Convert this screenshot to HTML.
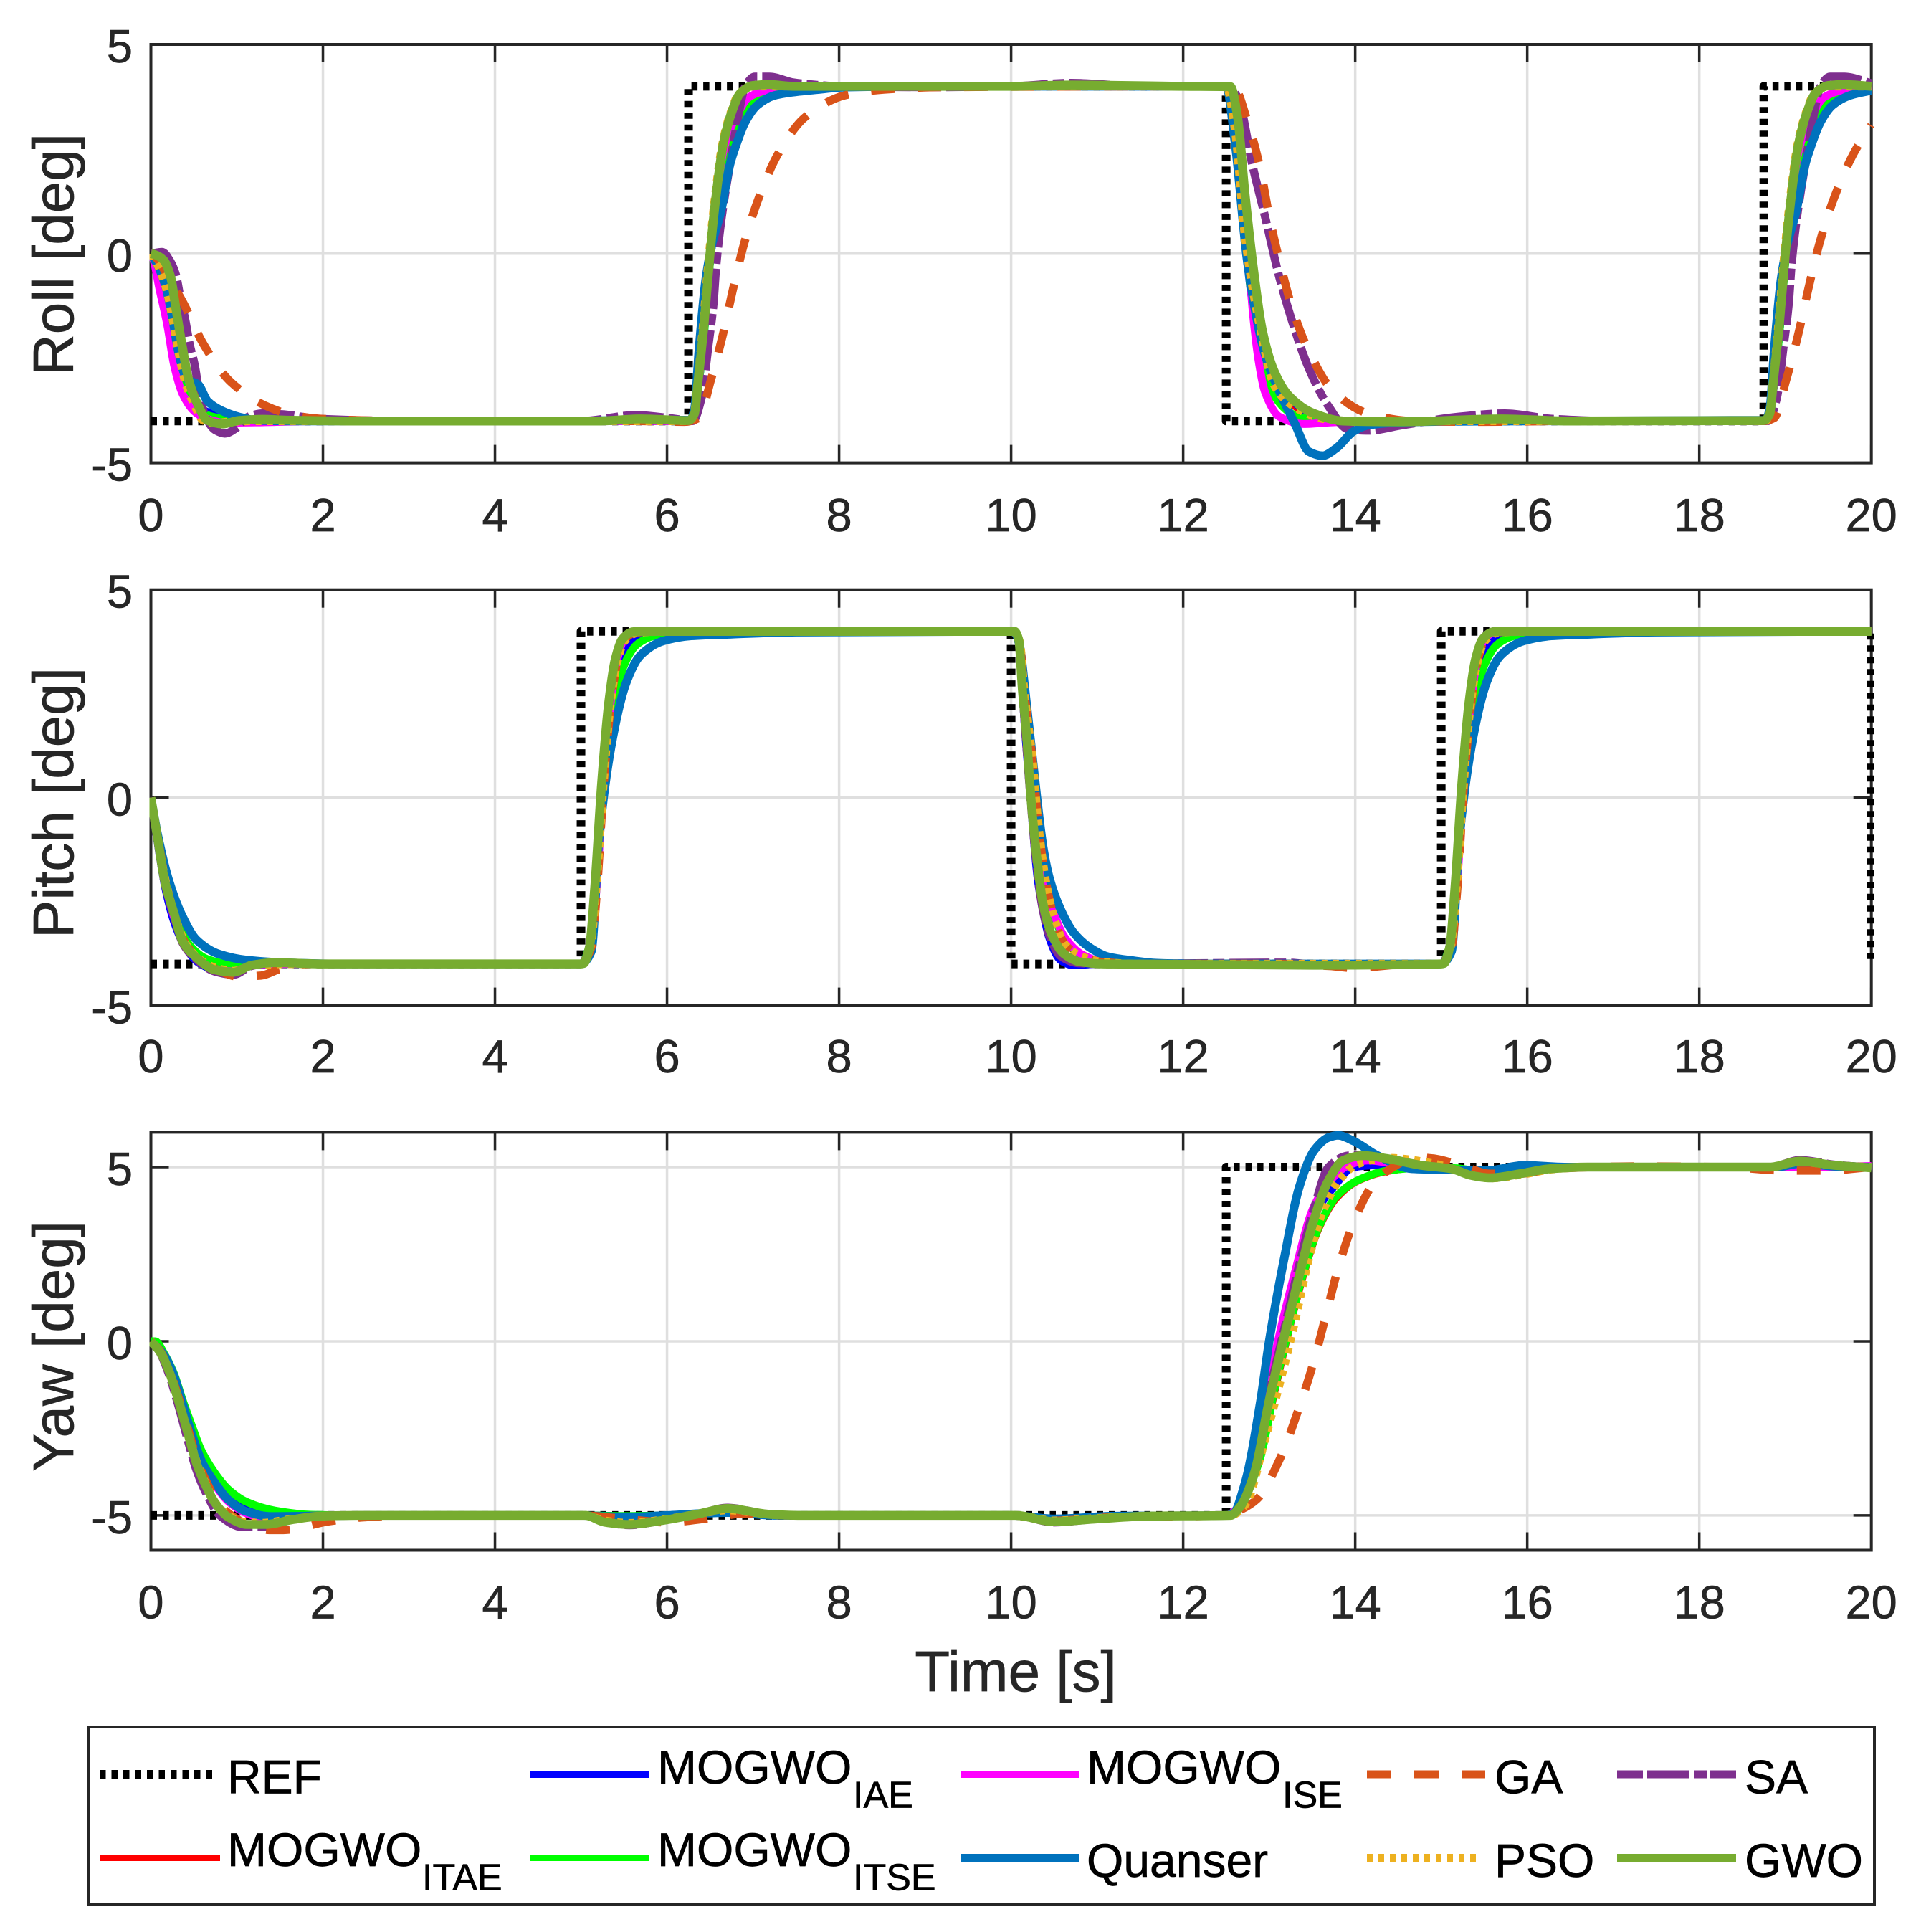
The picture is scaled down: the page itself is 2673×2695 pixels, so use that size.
<!DOCTYPE html>
<html lang="en">
<head>
<meta charset="utf-8">
<title>Roll, pitch and yaw tracking responses</title>
<style>
html,body{margin:0;padding:0;background:#fff;}
svg{display:block;font-family:"Liberation Sans",Arial,sans-serif;}
text{stroke-width:.7;paint-order:stroke;}
</style>
</head>
<body>
<svg id="figure" xmlns="http://www.w3.org/2000/svg" width="2673" height="2695" viewBox="0 0 2673 2695">
<rect x="0" y="0" width="2673" height="2695" fill="#fff"/>
<g id="panels"></g>
<text x="1417" y="2359" font-size="80" fill="#262626" stroke="#262626" text-anchor="middle">Time [s]</text>
<g>
<rect x="124" y="2409" width="2491" height="248" fill="#fff" stroke="#262626" stroke-width="4"/>
<g>
<line x1="139" y1="2475" x2="299" y2="2475" stroke="#000" stroke-width="12" stroke-dasharray="8.5 8"/>
<text x="317" y="2501.7" font-size="66" fill="#000" stroke="#000">REF</text>
</g>
<g>
<line x1="740" y1="2475" x2="906" y2="2475" stroke="#0000ff" stroke-width="10"/>
<text x="917" y="2488" font-size="66" fill="#000" stroke="#000">MOGWO</text>
<text x="1190" y="2521.7" font-size="52" fill="#000" stroke="#000">IAE</text>
</g>
<g>
<line x1="1340" y1="2475" x2="1506" y2="2475" stroke="#ff00ff" stroke-width="10"/>
<text x="1516" y="2488" font-size="66" fill="#000" stroke="#000">MOGWO</text>
<text x="1789" y="2521.7" font-size="52" fill="#000" stroke="#000">ISE</text>
</g>
<g>
<line x1="1907" y1="2475" x2="2072" y2="2475" stroke="#d95319" stroke-width="11" stroke-dasharray="34 32"/>
<text x="2085" y="2501.7" font-size="66" fill="#000" stroke="#000">GA</text>
</g>
<g>
<line x1="2256" y1="2475" x2="2422" y2="2475" stroke="#7e2f8e" stroke-width="11" stroke-dasharray="36 6 59 6 18 5 59"/>
<text x="2434" y="2501.7" font-size="66" fill="#000" stroke="#000">SA</text>
</g>
<g>
<line x1="139" y1="2591.5" x2="307" y2="2591.5" stroke="#ff0000" stroke-width="9"/>
<text x="317" y="2603" font-size="66" fill="#000" stroke="#000">MOGWO</text>
<text x="589" y="2636.7" font-size="52" fill="#000" stroke="#000">ITAE</text>
</g>
<g>
<line x1="740" y1="2591.5" x2="906" y2="2591.5" stroke="#00ff00" stroke-width="9"/>
<text x="917" y="2603" font-size="66" fill="#000" stroke="#000">MOGWO</text>
<text x="1190" y="2636.7" font-size="52" fill="#000" stroke="#000">ITSE</text>
</g>
<g>
<line x1="1340" y1="2591.5" x2="1506" y2="2591.5" stroke="#0072bd" stroke-width="11"/>
<text x="1516" y="2618" font-size="66" fill="#000" stroke="#000">Quanser</text>
</g>
<g>
<line x1="1907" y1="2591.5" x2="2068" y2="2591.5" stroke="#edb120" stroke-width="11" stroke-dasharray="8 8"/>
<text x="2085" y="2618" font-size="66" fill="#000" stroke="#000">PSO</text>
</g>
<g>
<line x1="2256" y1="2591.5" x2="2422" y2="2591.5" stroke="#77ac30" stroke-width="11"/>
<text x="2434" y="2618" font-size="66" fill="#000" stroke="#000">GWO</text>
</g>
</g>
</svg>
<script>
const xTickLabels=[0,2,4,6,8,10,12,14,16,18,20];
const rollYTicks=[-5,0,5];
const pitchYTicks=[-5,0,5];
const yawYTicks=[-5,0,5];

/* ---- Roll [deg]: [time, value] ---- */
const rollREF=[[0,-4],[6.25,-4],[6.25,4],[12.5,4],[12.5,-4],[18.75,-4],[18.75,4],[20,4]];
const rollITAE=[[0,0],[.06,-.2],[.16,-.9],[.25,-1.6],[.33,-2.5],[.4,-3.1],[.5,-3.55],[.62,-3.8],[.78,-3.88],[1,-3.97],[1.4,-4],[6.27,-4],[6.32,-3.85],[6.37,-3.1],[6.44,-1.7],[6.5,-.2],[6.57,.9],[6.65,1.9],[6.75,2.5],[6.85,3.05],[6.91,3.25],[7,3.5],[7.1,3.72],[7.27,3.88],[7.6,3.97],[8.2,4],[12.5,4],[12.6,3],[12.72,.3],[12.86,-1.85],[13.06,-3.05],[13.3,-3.65],[13.5,-3.9],[13.86,-4],[18.77,-4],[18.82,-3.85],[18.87,-3.1],[18.94,-1.7],[19,-.2],[19.07,.9],[19.15,1.9],[19.25,2.5],[19.35,3.05],[19.5,3.5],[19.77,3.88],[20,3.95]];
const rollIAE=[[0,0],[.06,-.2],[.16,-.9],[.25,-1.55],[.33,-2.45],[.4,-3.07],[.5,-3.55],[.62,-3.75],[.75,-3.85],[.91,-3.92],[1.3,-4],[6.27,-4],[6.32,-3.85],[6.37,-3.1],[6.44,-1.7],[6.5,-.2],[6.57,.9],[6.65,1.85],[6.75,2.4],[6.85,2.95],[7,3.45],[7.1,3.68],[7.27,3.85],[7.6,3.96],[8.2,4],[12.5,4],[12.6,3],[12.72,.25],[12.86,-1.83],[13.06,-3],[13.3,-3.57],[13.5,-3.86],[13.86,-4],[18.77,-4],[18.82,-3.85],[18.87,-3.1],[18.94,-1.7],[19,-.2],[19.07,.9],[19.15,1.85],[19.25,2.4],[19.35,2.95],[19.5,3.45],[19.77,3.85],[20,3.95]];
const rollITSE=[[0,0],[.06,-.2],[.16,-.9],[.25,-1.6],[.33,-2.5],[.4,-3.1],[.5,-3.55],[.62,-3.83],[.8,-3.93],[1,-3.98],[1.4,-4],[6.27,-4],[6.32,-3.85],[6.37,-3.1],[6.44,-1.7],[6.5,-.2],[6.57,1.1],[6.65,2.2],[6.75,2.75],[6.85,3.2],[6.91,3.37],[7,3.6],[7.1,3.78],[7.27,3.92],[7.6,3.98],[8,4],[12.5,4],[12.6,3],[12.72,.3],[12.86,-1.9],[13.03,-3.3],[13.3,-3.86],[13.63,-4],[18.77,-4],[18.82,-3.85],[18.87,-3.1],[18.94,-1.7],[19,-.2],[19.07,1.1],[19.15,2.2],[19.25,2.75],[19.35,3.2],[19.5,3.6],[19.77,3.92],[20,3.98]];
const rollISE=[[0,-.05],[.02,-.1],[.1,-.85],[.19,-1.7],[.27,-2.67],[.37,-3.36],[.5,-3.76],[.63,-3.93],[.86,-4.04],[1.3,-4.03],[2,-4],[6.27,-4],[6.32,-3.85],[6.37,-3.05],[6.43,-1.7],[6.5,-.1],[6.57,1.3],[6.65,2.4],[6.72,2.9],[6.81,3.3],[6.94,3.72],[7.13,3.89],[7.3,3.97],[7.6,4],[12.5,4],[12.58,3.6],[12.66,2.7],[12.74,.5],[12.81,-1.4],[12.88,-2.6],[12.95,-3.3],[13.12,-3.9],[13.4,-4.07],[13.75,-4.03],[14.3,-4],[18.77,-4],[18.82,-3.85],[18.87,-3.05],[18.93,-1.7],[19,-.1],[19.07,1.3],[19.15,2.4],[19.22,2.9],[19.31,3.3],[19.44,3.72],[19.63,3.89],[19.8,3.97],[20,4]];
const rollSA=[[0,0],[.13,.04],[.23,-.2],[.29,-.5],[.34,-1.02],[.4,-1.59],[.45,-2.16],[.51,-2.67],[.56,-3.3],[.63,-3.87],[.75,-4.22],[.86,-4.3],[1,-4.16],[1.13,-3.9],[1.3,-3.82],[1.52,-3.84],[1.97,-3.95],[3,-4],[5,-4],[5.64,-3.86],[6.1,-3.95],[6.3,-4],[6.4,-3.46],[6.48,-2.21],[6.54,-1.19],[6.57,-.33],[6.62,.63],[6.68,1.49],[6.75,2.35],[6.81,3.09],[6.91,4],[7.02,4.23],[7.19,4.23],[7.47,4.09],[7.65,4.05],[8,4],[9,3.98],[10,4],[10.7,4.08],[11.5,4],[12.5,4],[12.63,3.75],[12.81,2.07],[12.95,.9],[13.12,-.58],[13.3,-1.83],[13.46,-2.74],[13.69,-3.65],[13.92,-4.2],[14.15,-4.23],[14.55,-4.1],[15.2,-3.9],[15.74,-3.82],[16.3,-3.95],[17,-4],[18.8,-4],[18.9,-3.46],[18.98,-2.21],[19.04,-1.19],[19.07,-.33],[19.12,.63],[19.18,1.49],[19.25,2.35],[19.31,3.09],[19.41,4],[19.52,4.23],[19.69,4.23],[20,4.07]];
const rollQuanser=[[0,-.02],[.08,-.28],[.18,-.85],[.25,-1.53],[.33,-2.44],[.42,-3],[.55,-3.13],[.66,-3.53],[.83,-3.76],[1.02,-3.9],[1.25,-3.99],[1.8,-4],[5,-4],[5.7,-3.97],[6.27,-3.98],[6.32,-3.7],[6.37,-2.33],[6.45,-.62],[6.52,.2],[6.63,1.04],[6.73,2.12],[6.8,2.58],[6.91,3.15],[7.05,3.55],[7.25,3.78],[7.47,3.86],[7.75,3.92],[8.08,3.98],[9,4],[12.5,4],[12.6,2.7],[12.75,-.25],[12.95,-2.4],[13.12,-3.3],[13.3,-4.07],[13.46,-4.73],[13.62,-4.83],[13.78,-4.65],[13.98,-4.25],[14.15,-4.1],[14.55,-4.03],[15,-4.01],[16,-4],[18.77,-3.98],[18.82,-3.7],[18.87,-2.33],[18.95,-.62],[19.02,.2],[19.13,1.04],[19.23,2.12],[19.3,2.58],[19.41,3.15],[19.55,3.55],[19.75,3.78],[20,3.9]];
const rollGA=[[0,0],[.06,-.1],[.2,-.55],[.38,-1.19],[.61,-2.16],[.93,-3.07],[1.37,-3.67],[1.7,-3.88],[2,-3.95],[3,-4],[5.6,-4],[6.2,-4.02],[6.37,-3.93],[6.51,-3.02],[6.65,-1.93],[6.77,-.82],[6.9,.27],[7.07,1.35],[7.29,2.38],[7.61,3.27],[8.08,3.79],[8.52,3.92],[9.2,3.98],[12.58,4],[12.75,3.15],[12.9,2],[13,.9],[13.12,-.17],[13.26,-1.25],[13.46,-2.33],[13.75,-3.3],[14.15,-3.82],[14.66,-4],[15.5,-4.02],[16.5,-4],[18.75,-4],[18.87,-3.93],[19.01,-3.02],[19.15,-1.93],[19.27,-.82],[19.4,.27],[19.57,1.35],[19.79,2.38],[20,3.07]];
const rollPSO=[[0,0],[.08,-.28],[.18,-.85],[.25,-1.53],[.33,-2.44],[.4,-3.07],[.5,-3.59],[.61,-3.99],[.75,-4.05],[.9,-4.02],[1.2,-4],[6.27,-4],[6.32,-3.75],[6.36,-3],[6.42,-1.7],[6.49,0],[6.56,1.38],[6.64,2.58],[6.74,3.37],[6.84,3.83],[7,4],[7.3,4],[12.5,4],[12.6,3],[12.72,.4],[12.9,-1.83],[13.06,-3.15],[13.23,-3.57],[13.4,-3.78],[13.63,-3.95],[14,-4],[18.77,-4],[18.82,-3.75],[18.86,-3],[18.92,-1.7],[18.99,0],[19.06,1.38],[19.14,2.58],[19.24,3.37],[19.34,3.83],[19.5,4],[20,4]];
const rollGWO=[[0,0],[.04,-.02],[.15,-.16],[.23,-.56],[.29,-1.3],[.36,-2.16],[.44,-3.02],[.54,-3.59],[.66,-3.99],[.83,-4.07],[1.02,-3.99],[1.3,-3.96],[1.58,-3.98],[2.5,-4],[5.2,-4],[5.7,-3.95],[6.25,-3.99],[6.32,-3.82],[6.36,-3.07],[6.43,-1.7],[6.5,0],[6.57,1.38],[6.65,2.58],[6.75,3.37],[6.85,3.83],[7,4.02],[7.19,4.04],[7.47,4],[10,4],[10.7,4.03],[12,4],[12.55,3.99],[12.63,3.3],[12.72,1.4],[12.81,-.25],[12.92,-1.83],[13.06,-2.82],[13.23,-3.4],[13.52,-3.82],[13.86,-4],[14.5,-4.02],[15.7,-3.95],[16.5,-4],[18.75,-3.99],[18.82,-3.82],[18.86,-3.07],[18.93,-1.7],[19,0],[19.07,1.38],[19.15,2.58],[19.25,3.37],[19.35,3.83],[19.5,4.02],[19.69,4.04],[20,4]];

/* ---- Pitch [deg] ---- */
const pitchREF=[[0,-4],[5,-4],[5,4],[10,4],[10,-4],[15,-4],[15,4],[20,4],[20,-4]];
const pitchITAE=[[0,0],[.08,-1.05],[.18,-2.2],[.3,-3.05],[.45,-3.62],[.65,-3.95],[.9,-4.1],[1.2,-4.02],[1.6,-4],[5,-4],[5.1,-3.55],[5.17,-2.1],[5.25,.3],[5.33,2.2],[5.42,3.3],[5.52,3.8],[5.7,3.97],[6.2,4],[10,4],[10.05,3.95],[10.1,3.7],[10.15,2.63],[10.26,.68],[10.31,-.52],[10.4,-1.97],[10.5,-2.85],[10.63,-3.45],[10.83,-3.82],[11.05,-3.95],[11.5,-4],[15,-4],[15.1,-3.55],[15.17,-2.1],[15.25,.3],[15.33,2.2],[15.42,3.3],[15.52,3.8],[15.7,3.97],[16.2,4],[20,4]];
const pitchIAE=[[0,0],[.08,-1.1],[.17,-2.2],[.28,-3.05],[.4,-3.6],[.56,-3.98],[.75,-4.15],[.95,-4.2],[1.2,-4.03],[1.6,-4],[5,-4],[5.1,-3.55],[5.17,-2.1],[5.25,.3],[5.33,2.2],[5.42,3.2],[5.5,3.58],[5.66,3.85],[5.8,3.95],[6.2,4],[10,4],[10.04,3.98],[10.09,3.7],[10.13,2.6],[10.17,1.4],[10.225,0],[10.31,-1.97],[10.37,-2.7],[10.44,-3.35],[10.58,-3.92],[10.72,-4.03],[11,-4],[15,-4],[15.1,-3.55],[15.17,-2.1],[15.25,.3],[15.33,2.2],[15.42,3.2],[15.5,3.58],[15.66,3.85],[15.8,3.95],[16.2,4],[20,4]];
const pitchITSE=[[0,0],[.08,-1],[.18,-2.1],[.3,-2.95],[.45,-3.55],[.65,-3.88],[.9,-4],[1.2,-3.99],[1.6,-4],[5,-4],[5.1,-3.55],[5.18,-2],[5.26,.1],[5.37,2],[5.5,3.18],[5.66,3.7],[5.85,3.89],[6.12,3.97],[6.6,4],[10,4],[10.05,3.95],[10.1,3.7],[10.15,2.63],[10.26,.68],[10.31,-.52],[10.4,-1.97],[10.5,-2.85],[10.63,-3.42],[10.83,-3.8],[11.05,-3.95],[11.5,-4],[15,-4],[15.1,-3.55],[15.18,-2],[15.26,.1],[15.37,2],[15.5,3.18],[15.66,3.7],[15.85,3.89],[16.12,3.97],[16.6,4],[20,4]];
const pitchISE=[[0,0],[.08,-1.05],[.17,-2.1],[.28,-2.95],[.4,-3.55],[.56,-3.92],[.75,-4.12],[.95,-4.18],[1.2,-4.02],[1.6,-4],[5,-4],[5.11,-3.6],[5.18,-2.2],[5.26,.3],[5.34,2.2],[5.42,3.3],[5.5,3.8],[5.63,3.98],[6,4],[10,4],[10.05,3.95],[10.1,3.7],[10.15,2.63],[10.26,.68],[10.31,-.52],[10.4,-1.95],[10.5,-2.8],[10.63,-3.38],[10.83,-3.78],[11.05,-3.94],[11.5,-4],[15,-4],[15.11,-3.6],[15.18,-2.2],[15.26,.3],[15.34,2.2],[15.42,3.3],[15.5,3.8],[15.63,3.98],[16,4],[20,4]];
const pitchSA=[[0,0],[.08,-1.05],[.16,-2.05],[.27,-2.85],[.37,-3.5],[.53,-3.9],[.74,-4.18],[.96,-4.26],[1.17,-4.05],[1.44,-3.97],[2,-4],[5,-4],[5.1,-3.6],[5.16,-2.2],[5.24,.3],[5.32,2.2],[5.4,3.3],[5.48,3.82],[5.61,4],[6,4],[10,4],[10.04,3.98],[10.09,3.72],[10.13,2.63],[10.17,1.48],[10.225,0],[10.28,-1.28],[10.36,-2.6],[10.45,-3.35],[10.58,-3.82],[10.78,-3.98],[11.1,-4],[13.2,-3.97],[13.6,-4.02],[15,-4],[15.1,-3.6],[15.16,-2.2],[15.24,.3],[15.32,2.2],[15.4,3.3],[15.48,3.82],[15.61,4],[16,4],[20,4]];
const pitchQuanser=[[0,0],[.08,-.9],[.21,-2],[.37,-2.87],[.53,-3.42],[.8,-3.77],[1.12,-3.91],[1.54,-3.97],[2.2,-4],[5,-4],[5.12,-3.7],[5.21,-.98],[5.37,1.45],[5.53,2.79],[5.69,3.42],[5.96,3.77],[6.28,3.89],[6.75,3.93],[7.5,3.98],[10,4],[10.05,3.95],[10.1,3.65],[10.16,2.63],[10.3,0],[10.37,-1.16],[10.45,-1.97],[10.58,-2.71],[10.72,-3.23],[10.91,-3.6],[11.13,-3.83],[11.41,-3.92],[11.69,-3.98],[12.2,-4],[15,-4],[15.12,-3.7],[15.21,-.98],[15.37,1.45],[15.53,2.79],[15.69,3.42],[15.96,3.77],[16.28,3.89],[16.75,3.93],[17.5,3.98],[20,4]];
const pitchGA=[[0,0],[.08,-.95],[.17,-2],[.28,-2.85],[.4,-3.5],[.56,-3.88],[.78,-4.15],[1,-4.3],[1.28,-4.28],[1.49,-4.13],[1.75,-4.01],[2.1,-4],[5,-4],[5.12,-3.6],[5.19,-2.1],[5.26,.2],[5.34,2.1],[5.42,3.25],[5.5,3.78],[5.63,3.97],[6,4],[10,4],[10.05,3.95],[10.1,3.72],[10.15,2.63],[10.26,.68],[10.31,-.52],[10.4,-1.97],[10.5,-2.89],[10.63,-3.54],[10.83,-3.83],[11.05,-3.95],[11.5,-4],[13,-4],[13.7,-4.05],[14,-4.1],[14.5,-4.02],[15,-4],[15.12,-3.6],[15.19,-2.1],[15.26,.2],[15.34,2.1],[15.42,3.25],[15.5,3.78],[15.63,3.97],[16,4],[20,4]];
const pitchPSO=[[0,0],[.08,-1],[.17,-2],[.28,-2.85],[.4,-3.5],[.56,-3.88],[.76,-4.1],[.96,-4.17],[1.2,-4.03],[1.6,-4],[5,-4],[5.11,-3.58],[5.18,-2.1],[5.26,.3],[5.34,2.2],[5.42,3.25],[5.5,3.75],[5.65,3.96],[6,4],[10,4],[10.05,3.95],[10.1,3.75],[10.15,2.63],[10.26,.68],[10.31,-.52],[10.4,-1.97],[10.5,-2.89],[10.63,-3.54],[10.83,-3.83],[11.05,-3.95],[11.5,-4],[15,-4],[15.11,-3.58],[15.18,-2.1],[15.26,.3],[15.34,2.2],[15.42,3.25],[15.5,3.75],[15.65,3.96],[16,4],[20,4]];
const pitchGWO=[[0,0],[.08,-1],[.16,-2],[.27,-2.79],[.37,-3.46],[.53,-3.85],[.74,-4.14],[.96,-4.2],[1.17,-4.03],[1.44,-3.97],[2,-4],[5,-4],[5.03,-3.99],[5.1,-3.58],[5.16,-2.16],[5.24,.35],[5.32,2.24],[5.4,3.34],[5.48,3.81],[5.61,3.99],[6,4],[10,4],[10.04,4],[10.09,3.78],[10.13,2.63],[10.18,1.48],[10.23,0],[10.29,-1.28],[10.37,-2.54],[10.47,-3.28],[10.61,-3.75],[10.8,-3.95],[11.08,-4],[13.5,-4.03],[15,-4],[15.03,-3.99],[15.1,-3.58],[15.16,-2.16],[15.24,.35],[15.32,2.24],[15.4,3.34],[15.48,3.81],[15.61,3.99],[16,4],[20,4]];

/* ---- Yaw [deg] ---- */
const yawREF=[[0,-5],[12.5,-5],[12.5,5],[20,5]];
const yawITAE=[[0,0],[.16,-.4],[.27,-1],[.37,-1.72],[.48,-2.5],[.58,-3.2],[.74,-3.9],[.9,-4.35],[1.17,-4.75],[1.54,-4.96],[2,-5],[5,-5],[5.5,-5.02],[6,-5],[6.7,-4.9],[7.3,-5],[10,-5],[10.5,-5.12],[11.2,-5.03],[12.5,-5],[12.62,-4.85],[12.89,-3.4],[13.06,-1.5],[13.23,.3],[13.4,1.9],[13.58,3.25],[13.78,4.1],[14.03,4.6],[14.38,4.88],[14.77,4.98],[15.15,4.95],[15.55,4.85],[16,4.95],[16.7,5],[19,5],[19.3,5.07],[20,5]];
const yawIAE=[[0,0],[.16,-.4],[.27,-1],[.37,-1.75],[.48,-2.55],[.58,-3.25],[.74,-3.95],[.9,-4.4],[1.17,-4.75],[1.54,-4.96],[2,-5],[5,-5],[5.5,-5.02],[6,-5],[6.7,-4.92],[7.3,-5],[10,-5],[10.5,-5.1],[11.2,-5.02],[12.5,-5],[12.62,-4.82],[12.83,-3.6],[13,-1.4],[13.18,.7],[13.35,2.4],[13.52,3.6],[13.75,4.43],[13.98,5],[14.26,5.05],[14.77,4.95],[15.15,4.93],[15.55,4.85],[16,4.97],[16.7,5],[19,5],[19.3,5.07],[20,5]];
const yawITSE=[[0,0],[.05,0],[.16,-.38],[.27,-.94],[.37,-1.7],[.48,-2.45],[.58,-3.1],[.74,-3.77],[.9,-4.25],[1.12,-4.62],[1.44,-4.86],[1.86,-4.98],[2.4,-5],[5,-5],[5.5,-5.02],[6,-5],[6.7,-4.92],[7.3,-5],[10,-5],[10.5,-5.1],[11.2,-5.02],[12.5,-5],[12.62,-4.85],[12.89,-3.4],[13.06,-1.4],[13.23,.38],[13.4,1.98],[13.58,3.3],[13.78,4.15],[14.03,4.62],[14.38,4.9],[14.77,4.98],[15.15,4.97],[15.55,4.85],[16,4.97],[16.7,5],[19,5],[19.3,5.07],[20,5]];
const yawISE=[[0,0],[.16,-.42],[.27,-1.05],[.37,-1.8],[.48,-2.7],[.58,-3.4],[.74,-4.1],[.9,-4.6],[1.12,-4.95],[1.33,-5.08],[1.7,-5.02],[2.13,-5],[5,-5],[5.5,-5.05],[6,-5],[6.7,-4.92],[7.3,-5],[10,-5],[10.5,-5.1],[11.2,-5.02],[12.5,-5],[12.62,-4.82],[12.83,-3.5],[13.06,-.47],[13.29,1.89],[13.52,3.87],[13.75,4.72],[13.92,5.05],[14.15,5.19],[14.55,5.05],[15,4.95],[15.5,4.85],[16,4.97],[16.7,5],[18.9,5],[19.3,5],[20,5.03]];
const yawSA=[[0,0],[.1,-.3],[.21,-.95],[.32,-1.85],[.43,-2.85],[.53,-3.7],[.64,-4.35],[.8,-5],[1.06,-5.33],[1.28,-5.33],[1.65,-5.12],[1.9,-5.03],[2.4,-5],[5.05,-5],[5.27,-5.19],[5.56,-5.28],[5.96,-5.14],[6.38,-4.95],[6.7,-4.78],[7.2,-4.97],[7.6,-5],[10.05,-5],[10.5,-5.2],[11,-5.1],[11.6,-5.02],[12.55,-5],[12.66,-4.72],[12.83,-3.6],[13,-1.5],[13.18,.4],[13.35,2.2],[13.52,3.8],[13.69,5],[13.92,5.33],[14.09,5.35],[14.38,5.24],[14.77,5.05],[15.12,4.95],[15.35,4.76],[15.57,4.69],[15.92,4.81],[16.26,4.95],[16.7,5],[18.82,5],[19.17,5.2],[19.57,5.07],[20,4.98]];
const yawQuanser=[[0,0],[.16,-.42],[.27,-1],[.37,-1.8],[.48,-2.7],[.6,-3.5],[.74,-4.05],[.9,-4.55],[1.1,-4.88],[1.4,-5.03],[1.9,-5.02],[2.4,-5],[5,-5],[5.25,-5.03],[5.56,-5.05],[6,-5],[6.7,-4.92],[7.3,-5],[10,-5],[10.5,-5.1],[11.2,-5.02],[12.5,-5],[12.58,-4.95],[12.72,-4.06],[12.9,-1.7],[13,0],[13.18,2.45],[13.35,4.43],[13.52,5.47],[13.69,5.85],[13.8,5.91],[13.98,5.75],[14.26,5.33],[14.66,4.95],[15.12,4.92],[15.52,4.9],[15.97,5.05],[16.43,5],[18.9,5],[19.17,5.1],[19.6,5.02],[20,5]];
const yawGA=[[0,0],[.1,-.25],[.21,-.8],[.32,-1.6],[.43,-2.5],[.53,-3.35],[.64,-4],[.8,-4.7],[1.12,-5.25],[1.38,-5.42],[1.54,-5.42],[2.07,-5.17],[2.5,-5.05],[3,-5],[5,-5],[5.5,-5.1],[6,-5.2],[6.5,-5.08],[6.9,-4.95],[7.4,-5],[10,-5],[10.5,-5.15],[11.2,-5.05],[12.5,-5],[12.66,-4.85],[12.86,-4.53],[13.12,-3.4],[13.35,-1.89],[13.52,-.57],[13.66,.75],[13.8,2.08],[13.98,3.4],[14.2,4.48],[14.38,4.9],[14.72,5.28],[14.9,5.25],[15.23,5.05],[15.57,4.81],[15.92,4.81],[16.3,4.95],[17.28,5.02],[18.3,5],[19,4.9],[19.45,4.9],[20,5]];
const yawPSO=[[0,0],[.1,-.28],[.21,-.85],[.32,-1.7],[.43,-2.6],[.53,-3.45],[.64,-4.1],[.74,-4.6],[.9,-5],[1.06,-5.18],[1.28,-5.22],[1.6,-5.12],[2,-5.03],[2.5,-5],[5.05,-5],[5.27,-5.15],[5.56,-5.22],[5.96,-5.12],[6.38,-4.95],[6.7,-4.85],[7.2,-4.97],[7.6,-5],[10.05,-5],[10.5,-5.15],[11,-5.08],[11.6,-5.02],[12.55,-5],[12.72,-4.7],[12.95,-2.83],[13.12,-1.23],[13.29,.47],[13.46,2.36],[13.63,3.77],[13.83,4.67],[14.03,5.09],[14.38,5.26],[14.95,5.08],[15.23,4.86],[15.57,4.68],[15.92,4.78],[16.3,4.94],[16.7,5],[18.82,5],[19.17,5.15],[19.57,5.05],[20,5]];
const yawGWO=[[0,0],[.1,-.28],[.21,-.85],[.32,-1.7],[.43,-2.64],[.53,-3.5],[.64,-4.15],[.74,-4.62],[.9,-5.05],[1.12,-5.26],[1.33,-5.26],[1.65,-5.12],[1.97,-5.02],[2.4,-5],[5.05,-5],[5.27,-5.19],[5.56,-5.26],[5.96,-5.14],[6.38,-4.95],[6.7,-4.8],[7.2,-4.97],[7.6,-5],[10.05,-5],[10.5,-5.18],[11,-5.1],[11.6,-5.02],[12.55,-5],[12.66,-4.76],[12.83,-3.77],[13,-1.7],[13.18,.19],[13.35,1.89],[13.52,3.49],[13.69,4.62],[13.86,5.19],[14.09,5.33],[14.38,5.24],[14.77,5.05],[15.12,4.95],[15.35,4.76],[15.57,4.69],[15.92,4.81],[16.26,4.95],[16.7,5],[18.82,5],[19.17,5.17],[19.57,5.05],[20,4.98]];

const xMin=0, xMax=20, plotLeft=210.5, plotRight=2610.7;
const NS='http://www.w3.org/2000/svg';
const panelsRoot=document.getElementById('panels');

const seriesStyles=[
 {key:'ref',color:'#000000',width:12,dash:'8.5 8',step:true},
 {key:'mogwo-itae',color:'#ff0000',width:10,dash:''},
 {key:'mogwo-iae',color:'#0000ff',width:11,dash:''},
 {key:'mogwo-itse',color:'#00ff00',width:11,dash:''},
 {key:'mogwo-ise',color:'#ff00ff',width:11,dash:''},
 {key:'sa',color:'#7e2f8e',width:11.5,dash:'56 7 16 7'},
 {key:'quanser',color:'#0072bd',width:12,dash:''},
 {key:'ga',color:'#d95319',width:11.5,dash:'33 32'},
 {key:'pso',color:'#edb120',width:11.5,dash:'8 8'},
 {key:'gwo',color:'#77ac30',width:12.5,dash:''}
];

function xScale(t){return plotLeft+(t-xMin)/(xMax-xMin)*(plotRight-plotLeft);}
function yScale(panel,v){return panel.bottom-(v-panel.yMin)/(panel.yMax-panel.yMin)*(panel.bottom-panel.top);}

function make(tag,attrs,parent){
  const node=document.createElementNS(NS,tag);
  for(const k in attrs){node.setAttribute(k,attrs[k]);}
  parent.appendChild(node);
  return node;
}

function linearPath(pts){
  return pts.map((p,i)=>(i?'L':'M')+p[0].toFixed(2)+' '+p[1].toFixed(2)).join('');
}

/* monotone cubic through the read points, so no invented overshoot */
function monotonePath(pts){
  const n=pts.length;
  const dx=[],m=[],s=[];
  for(let i=0;i<n-1;i++){
    dx[i]=pts[i+1][0]-pts[i][0];
    s[i]=(pts[i+1][1]-pts[i][1])/dx[i];
  }
  m[0]=s[0];
  m[n-1]=s[n-2];
  for(let i=1;i<n-1;i++){
    if(s[i-1]*s[i]<=0){m[i]=0;}
    else{
      const w1=2*dx[i]+dx[i-1],w2=dx[i]+2*dx[i-1];
      m[i]=(w1+w2)/(w1/s[i-1]+w2/s[i]);
    }
  }
  let d='M'+pts[0][0].toFixed(2)+' '+pts[0][1].toFixed(2);
  for(let i=0;i<n-1;i++){
    const h=dx[i]/3;
    d+='C'+(pts[i][0]+h).toFixed(2)+' '+(pts[i][1]+m[i]*h).toFixed(2)+' '+(pts[i+1][0]-h).toFixed(2)+' '+(pts[i+1][1]-m[i+1]*h).toFixed(2)+' '+pts[i+1][0].toFixed(2)+' '+pts[i+1][1].toFixed(2);
  }
  return d;
}

function drawPanel(panel){
  const group=make('g',{},panelsRoot);
  
  

  const clip=make('clipPath',{id:'clip-'+panel.name},group);
  make('rect',{x:plotLeft-2,y:panel.top-2,width:plotRight-plotLeft+6,height:panel.bottom-panel.top+4},clip);

  xTickLabels.forEach(t=>{
    const gx=xScale(t);
    if(t!==xMin&&t!==xMax){
      const grid=make('line',{x1:gx,x2:gx,y1:panel.top,y2:panel.bottom,stroke:'#dfdfdf','stroke-width':3.5},group);
      
      
    }
  });
  panel.yTicks.forEach(v=>{
    const gy=yScale(panel,v);
    if(v!==panel.yMin&&v!==panel.yMax){
      const grid=make('line',{x1:plotLeft,x2:plotRight,y1:gy,y2:gy,stroke:'#dfdfdf','stroke-width':3.5},group);
      
      
    }
  });

  xTickLabels.forEach(t=>{
    const gx=xScale(t);
    const top=make('line',{x1:gx,x2:gx,y1:panel.top,y2:panel.top+25,stroke:'#262626','stroke-width':3.5},group);
    
    
    const bottom=make('line',{x1:gx,x2:gx,y1:panel.bottom,y2:panel.bottom-25,stroke:'#262626','stroke-width':3.5},group);
    
    
    const label=make('text',{x:gx,y:panel.xLabelY,'font-size':65,fill:'#262626',stroke:'#262626','text-anchor':'middle'},group);
    label.textContent=String(t);
    
    
  });
  panel.yTicks.forEach(v=>{
    const gy=yScale(panel,v);
    const left=make('line',{x1:plotLeft,x2:plotLeft+25,y1:gy,y2:gy,stroke:'#262626','stroke-width':3.5},group);
    
    
    const right=make('line',{x1:plotRight,x2:plotRight-25,y1:gy,y2:gy,stroke:'#262626','stroke-width':3.5},group);
    
    
    const label=make('text',{x:185,y:gy+25,'font-size':65,fill:'#262626',stroke:'#262626','text-anchor':'end'},group);
    label.textContent=String(v);
    
    
  });

  const box=make('rect',{x:plotLeft,y:panel.top,width:plotRight-plotLeft,height:panel.bottom-panel.top,fill:'none',stroke:'#262626','stroke-width':4},group);
  
  

  const title=make('text',{transform:'translate(102 '+panel.titleY+') rotate(-90)','font-size':80,fill:'#262626',stroke:'#262626','text-anchor':'middle'},group);
  title.textContent=panel.title;
  
  

  const lines=make('g',{'clip-path':'url(#clip-'+panel.name+')'},group);
  
  
  seriesStyles.forEach((style,i)=>{
    const pts=panel.series[i].map(p=>[xScale(p[0]),yScale(panel,p[1])]);
    const attrs={d:style.step?linearPath(pts):monotonePath(pts),fill:'none',stroke:style.color,'stroke-width':style.width,'stroke-linejoin':'round'};
    if(style.dash){attrs['stroke-dasharray']=style.dash;}
    const line=make('path',attrs,lines);
    
    
  });
}

drawPanel({name:'roll',title:'Roll [deg]',titleY:355,top:62,bottom:645.6,yMin:-5,yMax:5,yTicks:rollYTicks,xLabelY:741,
  series:[rollREF,rollITAE,rollIAE,rollITSE,rollISE,rollSA,rollQuanser,rollGA,rollPSO,rollGWO]});
drawPanel({name:'pitch',title:'Pitch [deg]',titleY:1120,top:822.7,bottom:1402.6,yMin:-5,yMax:5,yTicks:pitchYTicks,xLabelY:1496,
  series:[pitchREF,pitchITAE,pitchIAE,pitchITSE,pitchISE,pitchSA,pitchQuanser,pitchGA,pitchPSO,pitchGWO]});
drawPanel({name:'yaw',title:'Yaw [deg]',titleY:1878,top:1579.4,bottom:2162.5,yMin:-6,yMax:6,yTicks:yawYTicks,xLabelY:2257.5,
  series:[yawREF,yawITAE,yawIAE,yawITSE,yawISE,yawSA,yawQuanser,yawGA,yawPSO,yawGWO]});
</script>
</body>
</html>
